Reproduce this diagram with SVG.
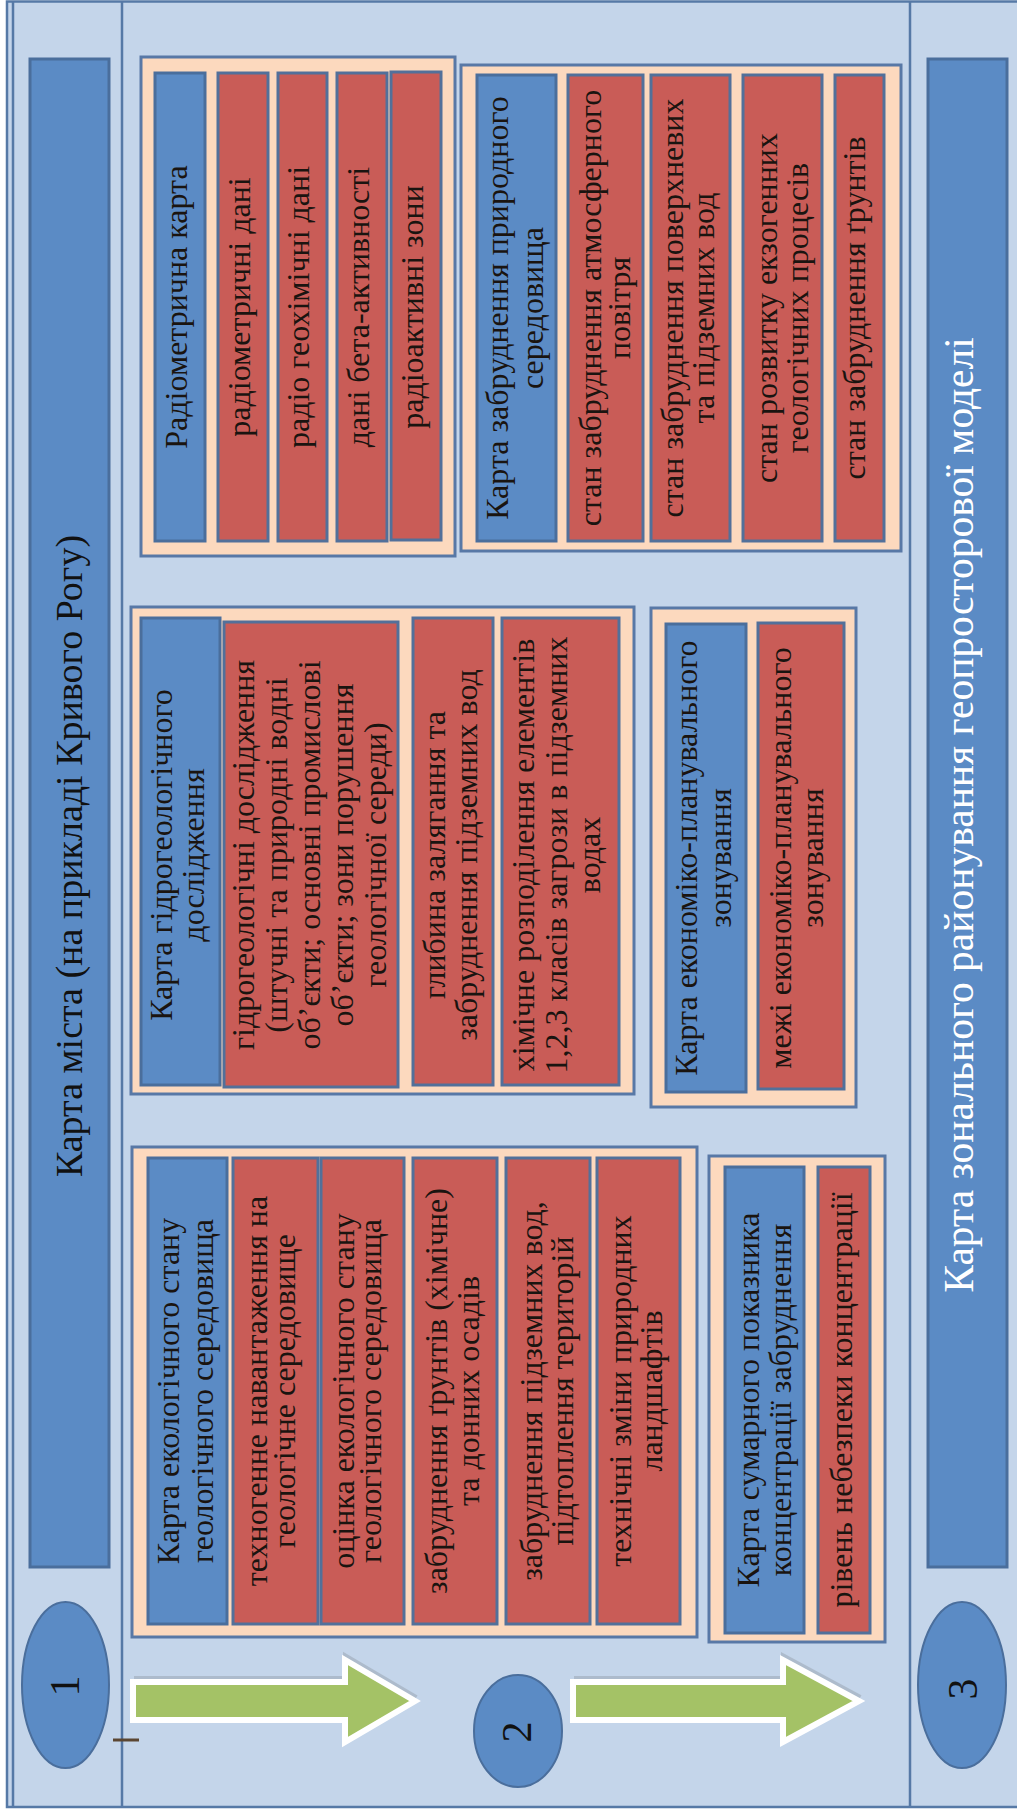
<svg xmlns="http://www.w3.org/2000/svg" width="1017" height="1820" viewBox="0 0 1017 1820">
<style>
.bg{fill:#C4D5EA}
.ln{stroke:#5679A6;stroke-width:2.5;fill:none}
.grp{fill:#FCD9BE;stroke:#5878A6;stroke-width:3}
.bn{fill:#5B8BC5;stroke:#4A6E9C;stroke-width:3}
.rn{fill:#C95C57;stroke:#52709A;stroke-width:3}
.bar{fill:#5B8BC5;stroke:#4A6E9C;stroke-width:3}
.ell{fill:#5B8BC5;stroke:#4A6E9C;stroke-width:2}
.t{font-family:"Liberation Serif","Times New Roman",serif;font-size:32px;fill:#1a1410;text-anchor:middle}
.ti{font-family:"Liberation Serif","Times New Roman",serif;font-size:38px;text-anchor:middle}
.num{font-family:"Liberation Serif","Times New Roman",serif;font-size:42px;fill:#111;text-anchor:middle}
.arrow{fill:#A4C266;stroke:#FFFFFF;stroke-width:6;stroke-linejoin:miter}
.shadow{fill:none;stroke:#9AA6B2;stroke-width:6;opacity:0.55}
</style>
<rect class="bg" x="7" y="1" width="1012" height="1806"/>
<g id="frame">
<rect class="ln" x="7" y="1.5" width="1014" height="1805.5"/>
<line class="ln" x1="13" y1="1.5" x2="13" y2="1807"/>
<line class="ln" x1="122" y1="1.5" x2="122" y2="1807"/>
<line class="ln" x1="910" y1="1.5" x2="910" y2="1807"/>
<line x1="113" y1="1740" x2="139" y2="1740" stroke="#5B4632" stroke-width="3"/>
</g>

<g id="title-left">
<rect class="bar" x="30" y="59" width="79" height="1508"/>
<text class="ti" fill="#111" transform="translate(82,856) rotate(-90)">Карта міста (на прикладі Кривого Рогу)</text>
</g>
<g id="title-right">
<rect class="bar" x="928" y="59" width="79" height="1508"/>
<text class="ti" fill="#FFFFFF" style="font-size:41.5px" transform="translate(973,815) rotate(-90)">Карта зонального районування геопросторової моделі</text>
</g>

<g id="step1"><ellipse class="ell" cx="65.5" cy="1685" rx="43.5" ry="83"/><text class="num" transform="translate(79,1686) rotate(-90)">1</text></g>
<g id="step2"><ellipse class="ell" cx="518" cy="1731" rx="44" ry="56"/><text class="num" transform="translate(531,1732) rotate(-90)">2</text></g>
<g id="step3"><ellipse class="ell" cx="962" cy="1685" rx="44" ry="83"/><text class="num" transform="translate(977,1689) rotate(-90)">3</text></g>

<g id="connectors">
<path class="shadow" transform="translate(1,-3)" d="M133,1682 H345 V1660 L415,1701"/>
<path class="arrow" d="M133,1682 H345 V1660 L415,1701 L345,1742 V1720 H133 Z"/>
<path class="shadow" transform="translate(1,-3)" d="M573,1682 H783 V1660 L859,1701"/>
<path class="arrow" d="M573,1682 H783 V1660 L859,1701 L783,1742 V1720 H573 Z"/>
</g>

<g id="group-radiometric">
<rect class="grp" x="141" y="57" width="314" height="499"/>
<g id="n-radio-map"><rect class="bn" x="155" y="73" width="50" height="468"/><text class="t" transform="translate(187,307) rotate(-90)">Радіометрична карта</text></g>
<g id="n-radio-data"><rect class="rn" x="218" y="73" width="50" height="468"/><text class="t" transform="translate(250,307) rotate(-90)">радіометричні дані</text></g>
<g id="n-radio-geochem"><rect class="rn" x="278" y="73" width="49" height="468"/><text class="t" transform="translate(309,307) rotate(-90)">радіо геохімічні дані</text></g>
<g id="n-beta"><rect class="rn" x="337" y="73" width="50" height="468"/><text class="t" transform="translate(369,307) rotate(-90)">дані бета-активності</text></g>
<g id="n-radio-zones"><rect class="rn" x="391" y="72" width="50" height="468"/><text class="t" transform="translate(423,307) rotate(-90)">радіоактивні зони</text></g>
</g>

<g id="group-pollution">
<rect class="grp" x="461" y="65" width="440" height="486"/>
<g id="n-poll-map"><rect class="bn" x="477" y="75" width="79" height="466"/>
<text class="t" transform="translate(508,308) rotate(-90)">Карта забруднення природного</text>
<text class="t" transform="translate(543,308) rotate(-90)">середовища</text></g>
<g id="n-air"><rect class="rn" x="568" y="75" width="75" height="466"/>
<text class="t" transform="translate(601,308) rotate(-90)">стан забруднення атмосферного</text>
<text class="t" transform="translate(630,308) rotate(-90)">повітря</text></g>
<g id="n-water"><rect class="rn" x="651" y="75" width="79" height="466"/>
<text class="t" transform="translate(683,308) rotate(-90)">стан забруднення поверхневих</text>
<text class="t" transform="translate(714,308) rotate(-90)">та підземних вод</text></g>
<g id="n-exo"><rect class="rn" x="743" y="75" width="79" height="466"/>
<text class="t" transform="translate(777,308) rotate(-90)">стан розвитку екзогенних</text>
<text class="t" transform="translate(808,308) rotate(-90)">геологічних процесів</text></g>
<g id="n-soil"><rect class="rn" x="835" y="75" width="49" height="466"/>
<text class="t" transform="translate(865,308) rotate(-90)">стан забруднення ґрунтів</text></g>
</g>

<g id="group-hydro">
<rect class="grp" x="131" y="607" width="503" height="487"/>
<g id="n-hydro-map"><rect class="bn" x="141" y="618" width="79" height="467"/>
<text class="t" transform="translate(172,855) rotate(-90)">Карта гідрогеологічного</text>
<text class="t" transform="translate(204,855) rotate(-90)">дослідження</text></g>
<g id="n-hydro-research"><rect class="rn" x="224" y="622" width="174" height="465"/>
<text class="t" transform="translate(254,855) rotate(-90)">гідрогеологічні дослідження</text>
<text class="t" transform="translate(287,855) rotate(-90)">(штучні та природні водні</text>
<text class="t" transform="translate(320,855) rotate(-90)">об’єкти; основні промислові</text>
<text class="t" transform="translate(353,855) rotate(-90)">об’єкти; зони порушення</text>
<text class="t" transform="translate(386,855) rotate(-90)">геологічної середи)</text></g>
<g id="n-depth"><rect class="rn" x="413" y="618" width="80" height="467"/>
<text class="t" transform="translate(445,855) rotate(-90)">глибина залягання та</text>
<text class="t" transform="translate(477,855) rotate(-90)">забруднення підземних вод</text></g>
<g id="n-chem"><rect class="rn" x="502" y="618" width="117" height="467"/>
<text class="t" transform="translate(534,855) rotate(-90)">хімічне розподілення елементів</text>
<text class="t" transform="translate(567,855) rotate(-90)">1,2,3 класів загрози в підземних</text>
<text class="t" transform="translate(600,855) rotate(-90)">водах</text></g>
</g>

<g id="group-econ">
<rect class="grp" x="651" y="608" width="205" height="499"/>
<g id="n-econ-map"><rect class="bn" x="666" y="624" width="80" height="468"/>
<text class="t" transform="translate(697,858) rotate(-90)">Карта економіко-планувального</text>
<text class="t" transform="translate(731,858) rotate(-90)">зонування</text></g>
<g id="n-econ-bounds"><rect class="rn" x="758" y="623" width="86" height="466"/>
<text class="t" transform="translate(791,858) rotate(-90)">межі економіко-планувального</text>
<text class="t" transform="translate(823,858) rotate(-90)">зонування</text></g>
</g>

<g id="group-eco">
<rect class="grp" x="132" y="1147" width="565" height="490"/>
<g id="n-eco-map"><rect class="bn" x="148" y="1158" width="79" height="466"/>
<text class="t" transform="translate(179,1391) rotate(-90)">Карта екологічного стану</text>
<text class="t" transform="translate(213,1391) rotate(-90)">геологічного середовища</text></g>
<g id="n-techno"><rect class="rn" x="233" y="1158" width="85" height="466"/>
<text class="t" transform="translate(267,1391) rotate(-90)">техногенне навантаження на</text>
<text class="t" transform="translate(295,1391) rotate(-90)">геологічне середовище</text></g>
<g id="n-assess"><rect class="rn" x="321" y="1158" width="83" height="466"/>
<text class="t" transform="translate(354,1391) rotate(-90)">оцінка екологічного стану</text>
<text class="t" transform="translate(381,1391) rotate(-90)">геологічного середовища</text></g>
<g id="n-soil-chem"><rect class="rn" x="413" y="1158" width="84" height="466"/>
<text class="t" transform="translate(447,1391) rotate(-90)">забруднення ґрунтів (хімічне)</text>
<text class="t" transform="translate(479,1391) rotate(-90)">та донних осадів</text></g>
<g id="n-ground"><rect class="rn" x="506" y="1158" width="84" height="466"/>
<text class="t" transform="translate(542,1391) rotate(-90)">забруднення підземних вод,</text>
<text class="t" transform="translate(573,1391) rotate(-90)">підтоплення територій</text></g>
<g id="n-landscape"><rect class="rn" x="597" y="1158" width="83" height="466"/>
<text class="t" transform="translate(631,1391) rotate(-90)">технічні зміни природних</text>
<text class="t" transform="translate(662,1391) rotate(-90)">ландшафтів</text></g>
</g>

<g id="group-sum">
<rect class="grp" x="709" y="1156" width="176" height="486"/>
<g id="n-sum-map"><rect class="bn" x="725" y="1167" width="79" height="466"/>
<text class="t" transform="translate(759,1400) rotate(-90)">Карта сумарного показника</text>
<text class="t" transform="translate(791,1400) rotate(-90)">концентрації забруднення</text></g>
<g id="n-danger"><rect class="rn" x="818" y="1167" width="52" height="466"/>
<text class="t" transform="translate(852,1400) rotate(-90)">рівень небезпеки концентрації</text></g>
</g>
</svg>
